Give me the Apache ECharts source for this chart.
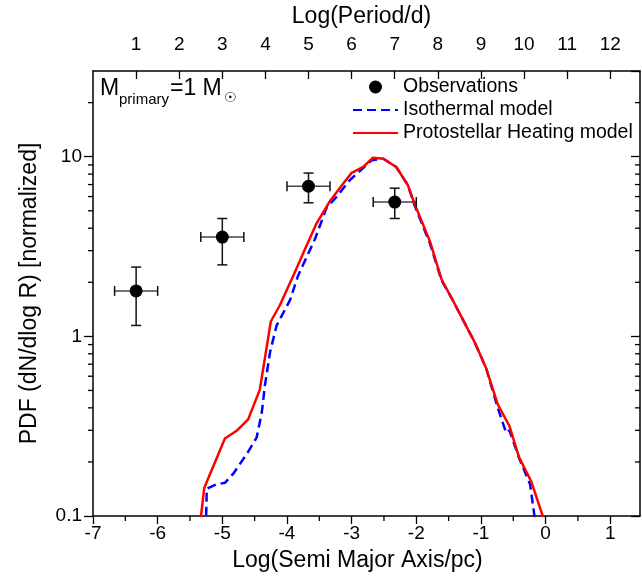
<!DOCTYPE html>
<html><head><meta charset="utf-8">
<script src="https://cdn.jsdelivr.net/npm/echarts@6/dist/echarts.min.js"></script>
<style>html,body{margin:0;padding:0;background:#fff}#c{width:642px;height:581px}</style>
</head><body><div id="c"></div>
<script>
// Observations
const obsLogA = [-6.333, -5.0, -3.667, -2.333];
const obsPdf = [1.79, 3.57, 6.85, 5.59];
const obsPdfLow = [1.15, 2.50, 5.54, 4.53];
const obsPdfHigh = [2.43, 4.53, 8.11, 6.68];
const obsLogAErr = [0.333, 0.333, 0.333, 0.333];
// Protostellar heating model
const heatLogA = [-5.36, -5.28, -4.96, -4.78, -4.60, -4.42, -4.25, -4.11, -3.88, -3.70, -3.54, -3.34, -3.13, -3.00, -2.82, -2.67, -2.51, -2.31, -2.13, -2.03, -1.79, -1.61, -1.46, -1.30, -1.10, -0.92, -0.74, -0.56, -0.41, -0.22, -0.04];
const heatPdf = [0.08, 0.143, 0.27, 0.298, 0.345, 0.505, 1.21, 1.49, 2.27, 3.18, 4.27, 5.63, 7.10, 8.13, 8.77, 9.87, 9.75, 8.77, 6.95, 5.51, 3.39, 2.08, 1.65, 1.28, 0.932, 0.665, 0.418, 0.317, 0.212, 0.155, 0.099];
// Isothermal model
const isoLogA = [-5.26, -5.24, -5.09, -4.96, -4.83, -4.62, -4.47, -4.39, -4.34, -4.26, -4.16, -3.95, -3.83, -3.57, -3.39, -3.23, -3.03, -2.69, -2.51, -2.31, -2.13, -2.03, -1.79, -1.61, -1.46, -1.30, -1.10, -0.92, -0.74, -0.61, -0.56, -0.41, -0.24, -0.10];
const isoPdf = [0.07, 0.142, 0.150, 0.153, 0.172, 0.222, 0.273, 0.375, 0.538, 0.822, 1.15, 1.60, 2.17, 3.46, 5.17, 6.00, 7.40, 9.55, 9.75, 8.77, 6.95, 5.40, 3.30, 2.05, 1.65, 1.28, 0.932, 0.665, 0.40, 0.29, 0.30, 0.21, 0.15, 0.065];
// axis ticks
const yMinorTicks = [0.2, 0.3, 0.4, 0.5, 0.6, 0.7, 0.8, 0.9, 2, 3, 4, 5, 6, 7, 8, 9, 20];
const xMinorTicks = [-6.5, -5.5, -4.5, -3.5, -2.5, -1.5, -0.5, 0.5];
const X_MIN = -7, X_MAX = 1.46, Y_MIN = 0.1, Y_MAX = 30;
const P_MIN = 0, P_MAX = (X_MAX - X_MIN) * 1.5;

const FONT = "'Liberation Sans', Arial, sans-serif";
const chart = echarts.init(document.getElementById('c'), null, {renderer: 'canvas'});
const axisLine = {show: true, onZero: false, lineStyle: {color: '#000', width: 1.5}};

function yMinorRender(params, api) {
  const v = api.value(1);
  const l = api.coord([X_MIN, v]);
  const r = api.coord([X_MAX, v]);
  const st = {stroke: '#000', lineWidth: 1.3};
  return {type: 'group', children: [
    {type: 'line', shape: {x1: l[0] - 5, y1: l[1], x2: l[0], y2: l[1]}, style: st},
    {type: 'line', shape: {x1: r[0] - 5, y1: r[1], x2: r[0], y2: r[1]}, style: st}
  ]};
}
function xMinorRender(params, api) {
  const v = api.value(0);
  const b = api.coord([v, Y_MIN]);
  return {type: 'line', shape: {x1: b[0], y1: b[1], x2: b[0], y2: b[1] + 5}, style: {stroke: '#000', lineWidth: 1.3}};
}
function errRender(params, api) {
  const x = api.value(0), y = api.value(1), lo = api.value(2), hi = api.value(3), xe = api.value(4);
  const pl = api.coord([x, lo]), ph = api.coord([x, hi]);
  const pL = api.coord([x - xe, y]), pR = api.coord([x + xe, y]);
  const c = 5;
  const sv = {stroke: '#111', lineWidth: 1.5};
  const sh = {stroke: '#444', lineWidth: 1.5};
  return {type: 'group', children: [
    {type: 'line', shape: {x1: pl[0], y1: pl[1], x2: ph[0], y2: ph[1]}, style: sv},
    {type: 'line', shape: {x1: pl[0] - c, y1: pl[1], x2: pl[0] + c, y2: pl[1]}, style: sv},
    {type: 'line', shape: {x1: ph[0] - c, y1: ph[1], x2: ph[0] + c, y2: ph[1]}, style: sv},
    {type: 'line', shape: {x1: pL[0], y1: pL[1], x2: pR[0], y2: pR[1]}, style: sh},
    {type: 'line', shape: {x1: pL[0], y1: pL[1] - c, x2: pL[0], y2: pL[1] + c}, style: sv},
    {type: 'line', shape: {x1: pR[0], y1: pR[1] - c, x2: pR[0], y2: pR[1] + c}, style: sv}
  ]};
}

const option = {
  animation: false,
  backgroundColor: '#fff',
  textStyle: {fontFamily: FONT},
  grid: {left: 93, right: 2, top: 67, bottom: 65, containLabel: false},
  legend: {
    orient: 'vertical', left: 352, top: 77, itemWidth: 45, itemHeight: 13, itemGap: 3, padding: 0,
    textStyle: {fontSize: 19.5, color: '#000', fontFamily: FONT},
    data: [
      {name: 'Observations', icon: 'circle', itemStyle: {opacity: 1}},
      {name: 'Isothermal model', itemStyle: {opacity: 0}},
      {name: 'Protostellar Heating model', itemStyle: {opacity: 0}}
    ]
  },
  xAxis: [
    {type: 'value', position: 'bottom', min: X_MIN, max: X_MAX, interval: 1,
     name: 'Log(Semi Major Axis/pc)', nameLocation: 'middle', nameGap: 33,
     nameTextStyle: {fontSize: 23, color: '#000', fontFamily: FONT, padding: [0, 18, 0, 0]},
     axisLine: axisLine, axisTick: {show: true, inside: false, length: 8, lineStyle: {color: '#000', width: 1.3}},
     axisLabel: {fontSize: 19, color: '#000', margin: 8, showMaxLabel: false, fontFamily: FONT},
     splitLine: {show: false}},
    {type: 'value', position: 'top', min: P_MIN, max: P_MAX, interval: 1,
     name: 'Log(Period/d)', nameLocation: 'middle', nameGap: 43,
     nameTextStyle: {fontSize: 23, color: '#000', fontFamily: FONT, padding: [0, 10, 0, 0]},
     axisLine: axisLine, axisTick: {show: true, inside: true, length: 8, lineStyle: {color: '#000', width: 1.3}},
     axisLabel: {fontSize: 19, color: '#000', margin: 17, showMinLabel: false, showMaxLabel: false, fontFamily: FONT},
     splitLine: {show: false}}
  ],
  yAxis: [
    {type: 'log', logBase: 10, position: 'left', min: Y_MIN, max: Y_MAX,
     name: 'PDF (dN/dlog R) [normalized]', nameLocation: 'middle', nameGap: 52,
     nameTextStyle: {fontSize: 23, color: '#000', fontFamily: FONT},
     axisLine: axisLine, axisTick: {show: true, inside: false, length: 9, lineStyle: {color: '#000', width: 1.3}},
     axisLabel: {fontSize: 19, color: '#000', margin: 11, showMaxLabel: false, fontFamily: FONT,
       formatter: v => String(v)},
     splitLine: {show: false}},
    {type: 'log', logBase: 10, position: 'right', min: Y_MIN, max: Y_MAX,
     axisLine: axisLine, axisTick: {show: true, inside: true, length: 9, lineStyle: {color: '#000', width: 1.3}},
     axisLabel: {show: false}, splitLine: {show: false}}
  ],
  graphic: [
    {type: 'text', left: 100, top: 77, style: {text: 'M', fontSize: 23, fontFamily: FONT, fill: '#000'}},
    {type: 'text', left: 119, top: 92, style: {text: 'primary', fontSize: 15, fontFamily: FONT, fill: '#000'}},
    {type: 'text', left: 170, top: 77, style: {text: '=1 M', fontSize: 23, fontFamily: FONT, fill: '#000'}},
    {type: 'text', left: 224, top: 91, style: {text: '\u2609', fontSize: 14, fontFamily: "'DejaVu Sans', sans-serif", fill: '#000'}}
  ],
  series: [
    {type: 'custom', name: 'yMinor', xAxisIndex: 0, yAxisIndex: 0, silent: true, clip: false, z: 5,
     renderItem: yMinorRender, data: yMinorTicks.map(v => [X_MIN, v])},
    {type: 'custom', name: 'xMinor', xAxisIndex: 0, yAxisIndex: 0, silent: true, clip: false, z: 5,
     renderItem: xMinorRender, data: xMinorTicks.map(v => [v, Y_MIN])},
    {type: 'line', name: 'Isothermal model', xAxisIndex: 0, yAxisIndex: 0, symbol: 'none', clip: true, z: 3,
     color: '#0000FF', lineStyle: {color: '#0000FF', width: 2.5, type: [9, 5]},
     data: isoLogA.map((x, i) => [x, isoPdf[i]])},
    {type: 'line', name: 'Protostellar Heating model', xAxisIndex: 0, yAxisIndex: 0, symbol: 'none', clip: true, z: 4,
     color: '#FF0000', lineStyle: {color: '#FF0000', width: 2.5},
     data: heatLogA.map((x, i) => [x, heatPdf[i]])},
    {type: 'custom', name: 'errors', xAxisIndex: 0, yAxisIndex: 0, silent: true, clip: false, z: 6,
     renderItem: errRender,
     data: obsLogA.map((x, i) => [x, obsPdf[i], obsPdfLow[i], obsPdfHigh[i], obsLogAErr[i]])},
    {type: 'scatter', name: 'Observations', xAxisIndex: 0, yAxisIndex: 0, symbol: 'circle', symbolSize: 13, z: 7,
     itemStyle: {color: '#000', opacity: 1},
     data: obsLogA.map((x, i) => [x, obsPdf[i]])}
  ]
};
chart.setOption(option);
</script></body></html>
